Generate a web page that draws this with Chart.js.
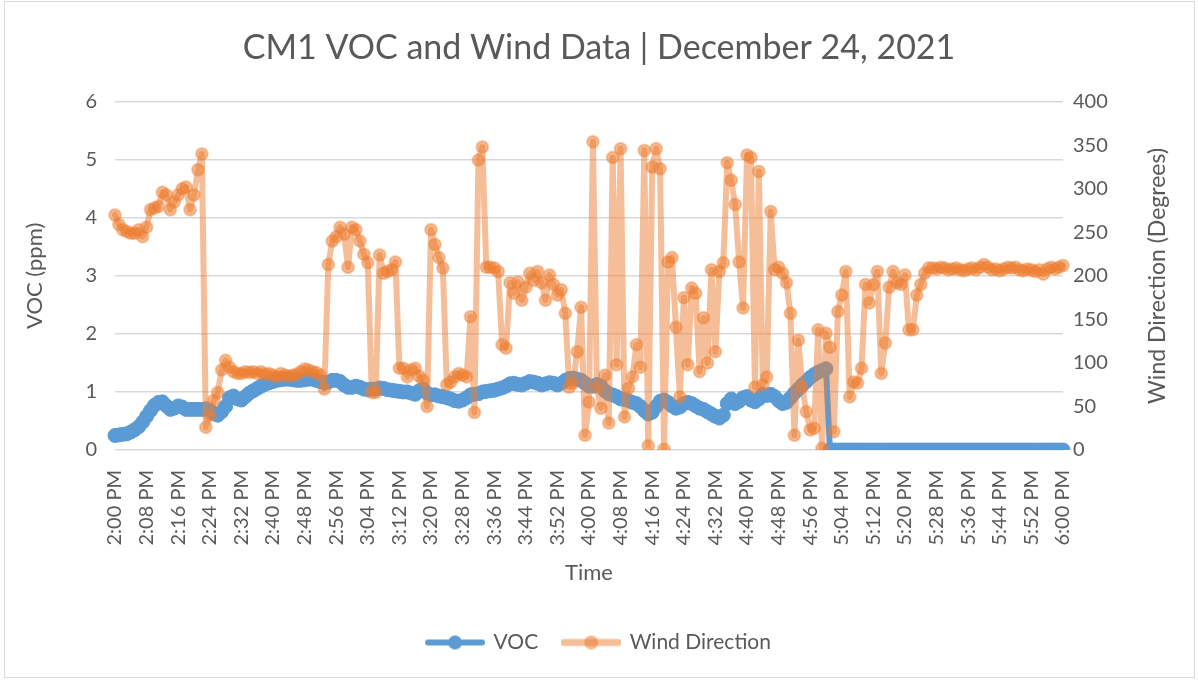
<!DOCTYPE html>
<html lang="en">
  <head>
    <meta charset="UTF-8" />
    <title>CM1 VOC and Wind Data</title>
    <script src="https://cdn.jsdelivr.net/npm/chart.js@4.4.1/dist/chart.umd.min.js"></script>
    <style>
      body { margin: 0; background: #ffffff; }
      #wrap { position: relative; width: 1198px; height: 681px; }
      #frame {
        position: absolute; left: 4px; top: 1px; width: 1189px; height: 675px;
        border: 1px solid #d9d9d9; pointer-events: none;
      }
    </style>
  </head>
  <body>
    <div id="wrap">
      <canvas id="myChart" width="1198" height="681"></canvas>
      <div id="frame"></div>
    </div>

    <script>
      // one reading per minute, 2:00 PM to 6:00 PM
      var startHour = 14;
      var minutes = 240;

      var vocPpm = [
        0.25, 0.26, 0.27, 0.28, 0.31, 0.35, 0.40, 0.48, 0.58, 0.68,
        0.77, 0.82, 0.83, 0.76, 0.70, 0.72, 0.76, 0.74, 0.70, 0.70,
        0.70, 0.70, 0.70, 0.71, 0.68, 0.63, 0.60, 0.66, 0.75, 0.90,
        0.93, 0.88, 0.86, 0.92, 0.98, 1.02, 1.06, 1.10, 1.13, 1.16,
        1.18, 1.20, 1.21, 1.22, 1.22, 1.21, 1.20, 1.20, 1.21, 1.22,
        1.22, 1.20, 1.18, 1.16, 1.17, 1.20, 1.20, 1.18, 1.12, 1.08,
        1.08, 1.10, 1.08, 1.05, 1.04, 1.05, 1.05, 1.07, 1.06, 1.04,
        1.03, 1.02, 1.01, 1.00, 1.00, 0.98, 0.96, 1.02, 1.05, 0.98,
        0.95, 0.95, 0.93, 0.92, 0.90, 0.88, 0.85, 0.84, 0.86, 0.90,
        0.95, 0.96, 0.97, 1.00, 1.01, 1.02, 1.03, 1.05, 1.07, 1.10,
        1.14, 1.15, 1.13, 1.12, 1.15, 1.18, 1.17, 1.15, 1.12, 1.14,
        1.16, 1.15, 1.12, 1.15, 1.20, 1.23, 1.24, 1.22, 1.20, 1.15,
        1.10, 1.10, 1.13, 1.10, 1.02, 0.97, 0.95, 0.92, 0.88, 0.87,
        0.85, 0.82, 0.80, 0.75, 0.68, 0.62, 0.65, 0.75, 0.84, 0.86,
        0.82, 0.76, 0.72, 0.74, 0.80, 0.82, 0.80, 0.76, 0.72, 0.70,
        0.66, 0.62, 0.58, 0.55, 0.60, 0.80, 0.88, 0.80, 0.84, 0.90,
        0.92, 0.86, 0.83, 0.88, 0.96, 0.94, 0.96, 0.92, 0.85, 0.80,
        0.82, 0.90, 0.98, 1.05, 1.12, 1.18, 1.25, 1.30, 1.34, 1.37,
        1.40, 0, 0, 0, 0, 0, 0, 0, 0, 0,
        0, 0, 0, 0, 0, 0, 0, 0, 0, 0,
        0, 0, 0, 0, 0, 0, 0, 0, 0, 0,
        0, 0, 0, 0, 0, 0, 0, 0, 0, 0,
        0, 0, 0, 0, 0, 0, 0, 0, 0, 0,
        0, 0, 0, 0, 0, 0, 0, 0, 0, 0,
        0
      ];

      var windDeg = [
        270, 259, 253, 251, 249, 249, 253, 245, 256, 276,
        278, 280, 296, 293, 276, 285, 293, 300, 302, 276,
        293, 322, 340, 26, 40, 57, 66, 92, 103, 95,
        90, 88, 88, 90, 89, 90, 88, 90, 87, 88,
        86, 84, 88, 86, 85, 86, 87, 90, 93, 92,
        90, 89, 86, 70, 213, 240, 245, 256, 248, 210,
        256, 253, 240, 225, 215, 66, 66, 224, 203, 205,
        207, 216, 94, 94, 84, 92, 94, 85, 80, 50,
        253, 236, 221, 209, 75, 78, 84, 88, 86, 84,
        153, 43, 333, 348, 210, 210, 209, 205, 121, 117,
        192, 180, 193, 172, 187, 203, 195, 205, 192, 172,
        201, 190, 178, 184, 157, 72, 77, 113, 164, 17,
        55, 354, 72, 48, 86, 31, 336, 98, 346, 38,
        71, 84, 121, 95, 344, 5, 325, 346, 323, 1,
        216, 221, 141, 61, 175, 98, 186, 180, 90, 152,
        100, 207, 113, 205, 215, 330, 310, 282, 216, 163,
        339, 336, 72, 320, 75, 84, 274, 207, 210, 203,
        192, 157, 17, 126, 72, 44, 23, 25, 138, 2,
        134, 118, 21, 159, 178, 205, 61, 78, 77, 94,
        190, 169, 190, 205, 88, 123, 187, 205, 192, 190,
        201, 138, 138, 178, 190, 203, 209, 209, 208, 210,
        209, 207, 208, 209, 207, 206, 208, 209, 207, 210,
        213, 210, 207, 208, 206, 208, 210, 209, 210, 207,
        206, 208, 207, 205, 207, 202, 208, 210, 208, 210,
        212
      ];

      var timeLabels = [];
      for (var m = 0; m <= minutes; m++) {
        var h = startHour + Math.floor(m / 60);
        var mm = m % 60;
        timeLabels.push((h > 12 ? h - 12 : h) + ":" + (mm < 10 ? "0" : "") + mm + " PM");
      }

      var fontFamily = "Lato, 'Open Sans', sans-serif";
      var textColor = "#595959";
      var blue = "#5B9BD5";
      var orangeLine = "rgba(237, 125, 49, 0.5)";
      var orangeDot = "rgba(237, 125, 49, 0.55)";

      // legend icon: short line with a marker in the middle
      function legendIcon(lineColor, lineWidth, dotColor) {
        var c = document.createElement("canvas");
        c.width = 60;
        c.height = 16;
        var g = c.getContext("2d");
        g.strokeStyle = lineColor;
        g.lineWidth = lineWidth;
        g.lineCap = "round";
        g.beginPath();
        g.moveTo(3, 8);
        g.lineTo(57, 8);
        g.stroke();
        g.fillStyle = dotColor;
        g.beginPath();
        g.arc(30, 8, 7, 0, Math.PI * 2);
        g.fill();
        return c;
      }
      var icons = [legendIcon(blue, 6, blue), legendIcon(orangeLine, 7, orangeDot)];

      // right axis title reads bottom to top, like Excel
      var rightTitle = {
        id: "rightTitle",
        afterDraw: function (chart) {
          var s = chart.scales.yWind;
          var ctx = chart.ctx;
          ctx.save();
          ctx.translate(s.right - 40, (s.top + s.bottom) / 2);
          ctx.rotate(-Math.PI / 2);
          ctx.font = "23px " + fontFamily;
          ctx.fillStyle = textColor;
          ctx.textAlign = "center";
          ctx.textBaseline = "middle";
          ctx.fillText("Wind Direction (Degrees)", 0, 0);
          ctx.restore();
        },
      };

      var ctx = document.getElementById("myChart").getContext("2d");
      var myChart = new Chart(ctx, {
        type: "line",
        data: {
          labels: timeLabels,
          datasets: [
            {
              label: "VOC",
              data: vocPpm,
              yAxisID: "yVoc",
              order: 2,
              borderColor: blue,
              backgroundColor: blue,
              borderWidth: 6,
              borderJoinStyle: "round",
              borderCapStyle: "round",
              pointRadius: 7,
              pointBackgroundColor: blue,
              pointBorderColor: blue,
              pointBorderWidth: 1,
              tension: 0,
            },
            {
              label: "Wind Direction",
              data: windDeg,
              yAxisID: "yWind",
              order: 1,
              borderColor: orangeLine,
              backgroundColor: orangeDot,
              borderWidth: 6,
              borderJoinStyle: "round",
              borderCapStyle: "round",
              pointRadius: 6,
              pointBackgroundColor: orangeDot,
              pointBorderColor: "rgba(237, 125, 49, 0.35)",
              pointBorderWidth: 2,
              tension: 0,
            },
          ],
        },
        options: {
          responsive: false,
          animation: false,
          devicePixelRatio: 1,
          layout: { padding: { left: 0, right: 0, top: 0, bottom: 18 } },
          plugins: {
            title: {
              display: true,
              text: "CM1 VOC and Wind Data | December 24, 2021",
              color: textColor,
              font: { family: fontFamily, size: 34, weight: "normal" },
              padding: { top: 28, bottom: 33 },
            },
            legend: {
              position: "bottom",
              labels: {
                color: textColor,
                font: { family: fontFamily, size: 21 },
                usePointStyle: true,
                pointStyleWidth: 56,
                padding: 25,
                sort: function (a, b) {
                  return a.datasetIndex - b.datasetIndex;
                },
                generateLabels: function (chart) {
                  var items = Chart.defaults.plugins.legend.labels.generateLabels(chart);
                  items.forEach(function (it) {
                    it.pointStyle = icons[it.datasetIndex];
                  });
                  return items;
                },
              },
            },
            tooltip: { enabled: false },
          },
          scales: {
            x: {
              offset: false,
              grid: { display: false },
              border: { display: false },
              ticks: {
                autoSkip: false,
                minRotation: 90,
                maxRotation: 90,
                padding: 12,
                color: textColor,
                font: { family: fontFamily, size: 20 },
                callback: function (val, i) {
                  return i % 8 === 0 ? timeLabels[i] : "";
                },
              },
              title: {
                display: true,
                text: "Time",
                color: textColor,
                font: { family: fontFamily, size: 22 },
                padding: { top: 4, bottom: 21 },
              },
              afterFit: function (scale) {
                scale.height = 157;
              },
            },
            yVoc: {
              position: "left",
              min: 0,
              max: 6,
              ticks: {
                stepSize: 1,
                padding: 18,
                color: textColor,
                font: { family: fontFamily, size: 20 },
              },
              grid: { color: "#d9d9d9", lineWidth: 1.5, drawTicks: false },
              border: { display: false },
              title: {
                display: true,
                text: "VOC (ppm)",
                color: textColor,
                font: { family: fontFamily, size: 22 },
                padding: { top: 22, bottom: 0 },
              },
              afterFit: function (scale) {
                scale.width = 115;
              },
            },
            yWind: {
              position: "right",
              min: 0,
              max: 400,
              ticks: {
                stepSize: 50,
                padding: 10,
                color: textColor,
                font: { family: fontFamily, size: 20 },
              },
              grid: { display: false, drawTicks: false },
              border: { display: false },
              afterFit: function (scale) {
                scale.width = 135;
              },
            },
          },
        },
        plugins: [rightTitle],
      });
    </script>
  </body>
</html>
